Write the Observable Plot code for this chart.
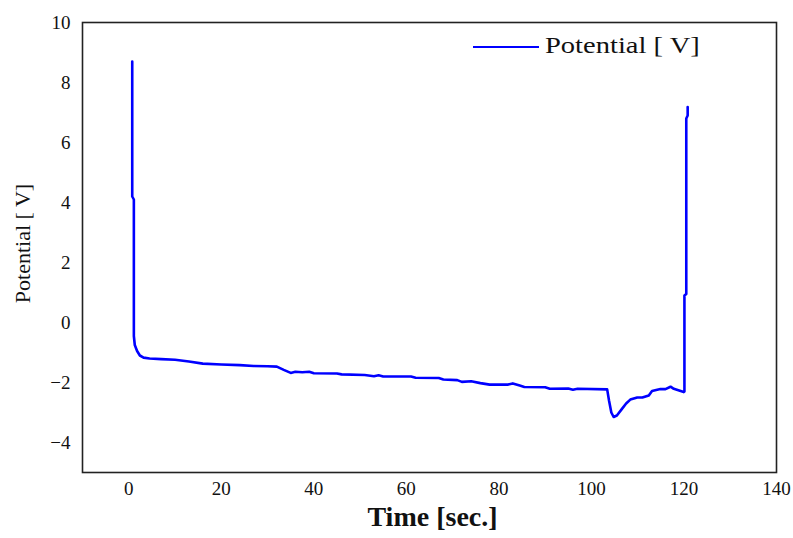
<!DOCTYPE html>
<html>
<head>
<meta charset="utf-8">
<script src="https://cdn.jsdelivr.net/npm/d3@7"></script>
<script src="https://cdn.jsdelivr.net/npm/@observablehq/plot@0.6"></script>
<style>
  html, body { margin: 0; padding: 0; background: #fff; }
  #wrap { position: relative; width: 793px; height: 538px; }
  #legend { position: absolute; left: 473px; top: 31px; height: 30px; display: flex; align-items: center;
    font-family: 'Liberation Serif', 'Times New Roman', serif; font-size: 23px; color: #111; }
  #legend .sw { width: 66px; height: 2.5px; background: #0000ff; margin-right: 6px; margin-top: 2px; }
  #legend .tx { display: inline-block; transform: scaleX(1.24); transform-origin: left center; white-space: nowrap; }
</style>
</head>
<body>
<div id="wrap"></div>
<script>
const time = [0.75, 0.75, 1.1, 1.1, 1.3, 1.8, 2.4, 3.2, 4.5, 7, 10, 13, 16, 20, 24, 27, 30, 32, 33.5, 35, 36, 37.5, 39, 40, 45, 46, 51, 53, 54, 55, 61, 62, 67, 68, 71, 72, 74, 76, 78, 82, 83, 84.5, 85.5, 90, 91, 95, 96, 97, 103.4, 103.8, 104.3, 104.8, 105.5, 106.6, 107.5, 108.4, 109.9, 111, 112.4, 113.1, 114.9, 116, 117.1, 117.8, 119.95, 120.1, 120.1, 120.5, 120.5, 120.8, 120.8];
const potential = [8.7, 4.2, 4.1, -0.45, -0.75, -0.95, -1.1, -1.17, -1.2, -1.22, -1.24, -1.3, -1.37, -1.4, -1.42, -1.45, -1.46, -1.47, -1.58, -1.68, -1.64, -1.66, -1.64, -1.69, -1.7, -1.73, -1.75, -1.79, -1.76, -1.8, -1.8, -1.84, -1.85, -1.9, -1.92, -1.98, -1.96, -2.02, -2.07, -2.07, -2.03, -2.1, -2.15, -2.16, -2.21, -2.2, -2.24, -2.21, -2.23, -2.6, -3.0, -3.15, -3.1, -2.88, -2.7, -2.57, -2.5, -2.5, -2.43, -2.28, -2.22, -2.22, -2.14, -2.21, -2.32, -2.3, 0.9, 0.95, 6.8, 6.9, 7.18];
const xTicks = [0, 20, 40, 60, 80, 100, 120, 140];
const yTicks = [-4, -2, 0, 2, 4, 6, 8, 10];
const seriesName = "Potential [ V]";
const xTitle = "Time [sec.]";
const yTitle = "Potential [ V]";

const data = time.map((t, i) => ({t, v: potential[i]}));
const font = "'Liberation Serif', 'Times New Roman', serif";

const chart = Plot.plot({
  width: 793, height: 538,
  marginLeft: 82, marginRight: 17, marginTop: 22, marginBottom: 66,
  style: {fontFamily: font, fontSize: "19px", color: "#111", background: "transparent", overflow: "visible"},
  x: {domain: [-10, 140]},
  y: {domain: [-5, 10]},
  marks: [
    Plot.axisX({ticks: xTicks, tickSize: 0, tickPadding: 9, label: null}),
    Plot.axisY({ticks: yTicks, tickSize: 0, tickPadding: 12, label: null}),
    Plot.frame({stroke: "#222", strokeWidth: 1.6}),
    Plot.line(data, {x: "t", y: "v", stroke: "#0000ff", strokeWidth: 2.6, curve: "linear"}),
    Plot.text([xTitle], {frameAnchor: "bottom", dy: 53, dx: 3, fontWeight: "bold", fontSize: 28, fill: "#111"}),
    Plot.text([yTitle], {frameAnchor: "left", textAnchor: "middle", dx: -60, dy: -4, rotate: -90, fontSize: 22, fill: "#111"})
  ]
});

const wrap = document.getElementById("wrap");
wrap.appendChild(chart);
const leg = document.createElement("div");
leg.id = "legend";
leg.innerHTML = '<span class="sw"></span><span class="tx"></span>';
leg.querySelector(".tx").textContent = seriesName;
wrap.appendChild(leg);
</script>
</body>
</html>
